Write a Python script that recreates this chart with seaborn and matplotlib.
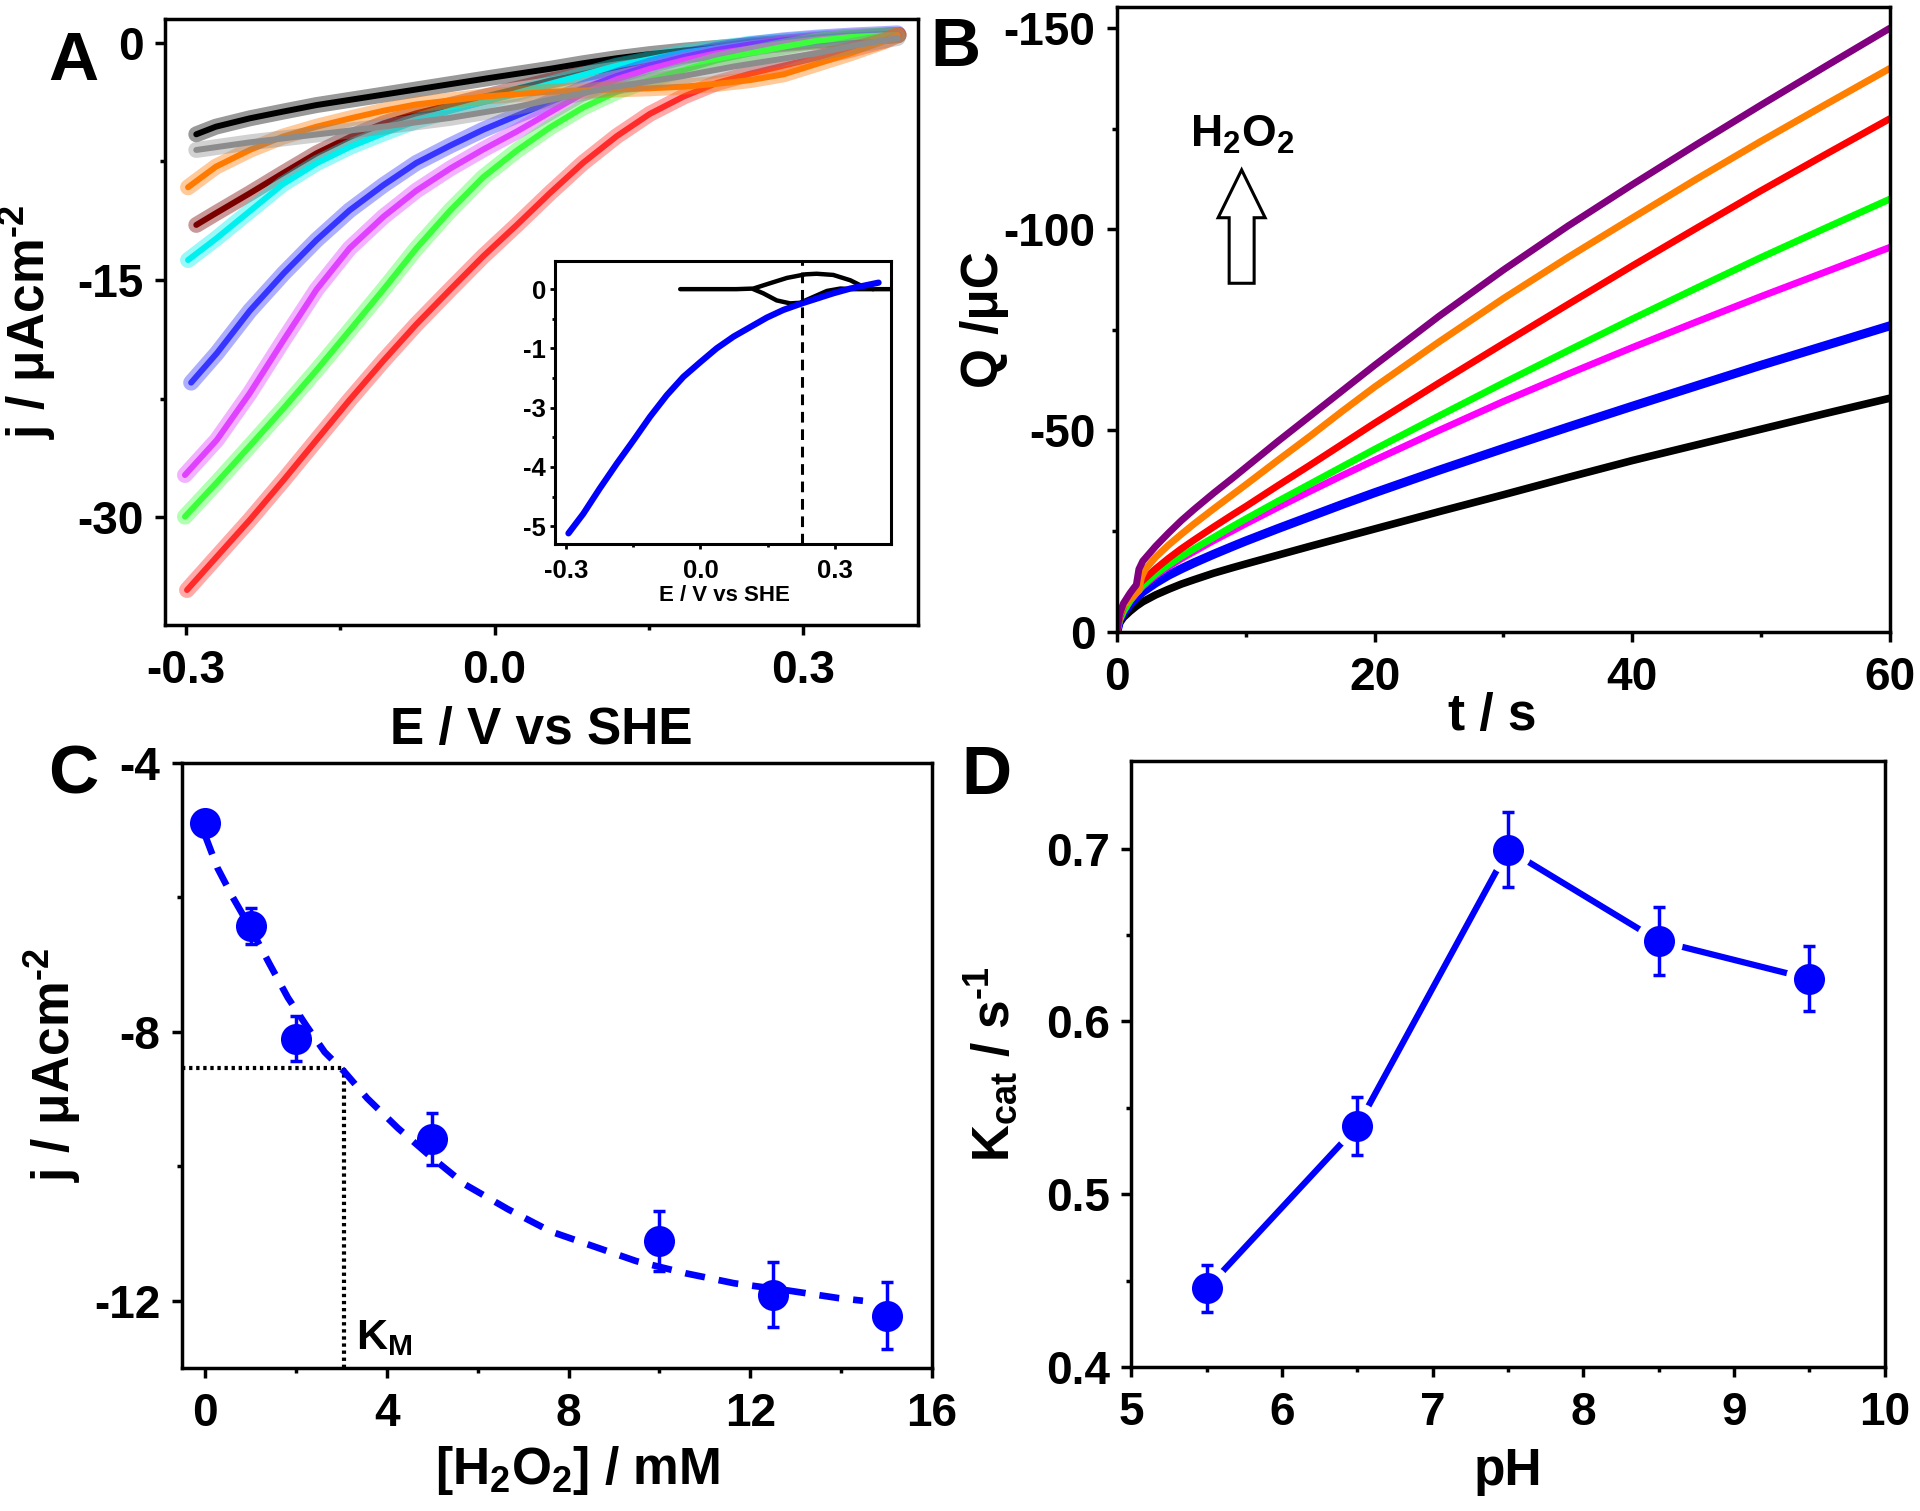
import matplotlib
matplotlib.use("Agg")
import matplotlib.pyplot as plt
import seaborn as sns
from matplotlib.ticker import FixedLocator, FixedFormatter
from matplotlib.patches import FancyArrow

# ---------------- Panel A data (E / V vs SHE, j / uA cm-2) ----------------
a_E_black = [-0.290, -0.271, -0.238, -0.206, -0.173, -0.100, -0.004, 0.054, 0.086, 0.119, 0.151, 0.184, 0.250, 0.320, 0.393]
a_j_black = [-5.79, -5.31, -4.78, -4.36, -3.94, -3.20, -2.22, -1.65, -1.30, -0.98, -0.72, -0.50, -0.15, 0.20, 0.49]

a_E_darkred = [-0.290, -0.271, -0.238, -0.206, -0.173, -0.140, -0.108, -0.076, -0.043, 0.054, 0.151, 0.249, 0.392]
a_j_darkred = [-11.52, -10.78, -9.52, -8.26, -6.99, -5.94, -5.10, -4.46, -3.94, -2.40, -1.10, -0.25, 0.49]

a_E_cyan = [-0.298, -0.271, -0.238, -0.206, -0.173, -0.140, -0.108, -0.076, -0.043, -0.011, 0.054, 0.119, 0.184, 0.249, 0.313, 0.392]
a_j_cyan = [-13.74, -12.40, -10.65, -8.95, -7.62, -6.57, -5.73, -4.95, -4.30, -3.75, -2.60, -1.45, -0.62, -0.06, 0.26, 0.49]

a_E_blue = [-0.295, -0.270, -0.238, -0.205, -0.173, -0.141, -0.108, -0.076, -0.043, -0.011, 0.022, 0.054, 0.086, 0.119, 0.151, 0.184, 0.216, 0.249, 0.281, 0.313, 0.346, 0.392]
a_j_blue = [-21.49, -19.63, -16.95, -14.58, -12.47, -10.60, -9.00, -7.60, -6.50, -5.50, -4.60, -3.75, -2.90, -2.10, -1.45, -0.90, -0.45, -0.10, 0.15, 0.32, 0.45, 0.59]

a_E_magenta = [-0.301, -0.270, -0.238, -0.205, -0.173, -0.141, -0.108, -0.076, -0.043, -0.011, 0.022, 0.054, 0.086, 0.119, 0.151, 0.184, 0.216, 0.249, 0.281, 0.313, 0.346, 0.392]
a_j_magenta = [-27.33, -25.11, -22.16, -18.79, -15.60, -13.00, -11.00, -9.35, -7.95, -6.75, -5.60, -4.40, -3.20, -2.30, -1.65, -1.10, -0.67, -0.36, -0.04, 0.21, 0.38, 0.49]

a_E_green = [-0.301, -0.270, -0.238, -0.205, -0.173, -0.141, -0.108, -0.076, -0.043, -0.011, 0.022, 0.054, 0.086, 0.119, 0.151, 0.184, 0.216, 0.249, 0.281, 0.313, 0.346, 0.392]
a_j_green = [-29.96, -27.80, -25.50, -23.10, -20.70, -18.20, -15.60, -13.00, -10.60, -8.50, -6.80, -5.35, -4.10, -3.10, -2.35, -1.72, -1.12, -0.67, -0.25, 0.12, 0.35, 0.49]

a_E_red = [-0.299, -0.270, -0.238, -0.205, -0.173, -0.141, -0.108, -0.076, -0.043, -0.011, 0.022, 0.054, 0.086, 0.119, 0.151, 0.184, 0.216, 0.249, 0.281, 0.313, 0.346, 0.378, 0.393]
a_j_red = [-34.60, -32.49, -30.17, -27.64, -25.11, -22.59, -20.10, -17.80, -15.60, -13.50, -11.50, -9.50, -7.60, -5.90, -4.50, -3.40, -2.55, -1.95, -1.45, -0.95, -0.45, 0.10, 0.49]

a_E_orange = [-0.298, -0.271, -0.238, -0.206, -0.173, -0.140, -0.108, -0.076, -0.010, 0.054, 0.151, 0.184, 0.216, 0.249, 0.281, 0.313, 0.346, 0.378, 0.392]
a_j_orange = [-9.14, -7.84, -6.78, -5.94, -5.31, -4.78, -4.30, -3.90, -3.40, -3.10, -2.88, -2.78, -2.60, -2.36, -2.00, -1.35, -0.67, 0.06, 0.49]

a_E_gray = [-0.290, -0.238, -0.173, -0.108, -0.043, 0.022, 0.054, 0.114, 0.184, 0.233, 0.313, 0.352, 0.392]
a_j_gray = [-6.78, -6.30, -5.80, -5.30, -4.75, -4.05, -3.60, -2.82, -2.10, -1.50, -0.67, -0.15, 0.30]

# inset (CV and LSV)
in_E_cv_up = [-0.045, 0.080, 0.118, 0.151, 0.193, 0.234, 0.259, 0.296, 0.334, 0.363, 0.385, 0.424]
in_j_cv_up = [0.0, 0.0, 0.01, 0.09, 0.19, 0.25, 0.26, 0.24, 0.15, 0.04, 0.0, 0.0]
in_E_cv_dn = [0.118, 0.140, 0.170, 0.200, 0.222, 0.252, 0.282, 0.312, 0.342, 0.385]
in_j_cv_dn = [0.0, -0.07, -0.19, -0.24, -0.23, -0.13, -0.03, 0.01, 0.0, 0.0]
in_E_lsv = [-0.294, -0.261, -0.224, -0.186, -0.149, -0.112, -0.075, -0.038, 0.000, 0.036, 0.074, 0.111, 0.148, 0.185, 0.226, 0.259, 0.296, 0.334, 0.397]
in_j_lsv = [-4.12, -3.79, -3.36, -2.94, -2.55, -2.15, -1.79, -1.48, -1.23, -1.00, -0.80, -0.64, -0.48, -0.35, -0.24, -0.16, -0.07, 0.01, 0.11]
in_E_dash = 0.227
in_ytick_labels = ["0", "-1", "-3", "-4", "-5"]

# ---------------- Panel B data (t / s, Q / uC) ----------------
b_t = [0, 0.2, 0.5, 1, 1.5, 2, 3, 4, 5, 6, 7.5, 9, 10, 12.5, 15, 17.5, 20, 25, 30, 35, 40, 45, 50, 55, 60]
b_Q_black = [0, -2.1, -3.5, -5.0, -6.3, -7.4, -9.1, -10.5, -11.8, -12.9, -14.5, -15.9, -16.8, -19.0, -21.2, -23.35, -25.5, -29.8, -34.0, -38.3, -42.5, -46.4, -50.3, -54.2, -58.0]
b_Q_blue = [0, -2.8, -4.6, -6.8, -8.5, -9.9, -12.1, -14.0, -15.6, -17.1, -19.2, -21.2, -22.5, -25.6, -28.6, -31.6, -34.5, -40.1, -45.5, -50.8, -56.0, -61.1, -66.2, -71.1, -76.0]
b_Q_magenta = [0, -2.8, -4.9, -7.5, -9.5, -11.2, -13.9, -16.1, -18.1, -19.9, -22.6, -25.1, -26.8, -30.9, -34.9, -38.8, -42.6, -50.0, -57.2, -64.0, -70.6, -77.0, -83.3, -89.4, -95.5]
b_Q_green = [0, -2.8, -5.0, -7.6, -9.7, -11.5, -14.3, -16.6, -18.7, -20.6, -23.4, -26.2, -28.0, -32.4, -36.7, -41.0, -45.3, -53.6, -61.8, -69.8, -77.7, -85.4, -93.0, -100.3, -107.5]
b_Q_red = [0, -3.5, -6.2, -9.0, -11.0, -12.7, -15.6, -18.2, -20.6, -22.8, -26.0, -29.1, -31.1, -36.3, -41.4, -46.6, -51.8, -61.8, -71.6, -81.3, -90.9, -100.3, -109.6, -118.6, -127.5]
b_t_orange = [0, 0.2, 0.5, 1, 1.5, 1.7, 1.9, 2.2, 3, 4, 5, 6, 7.5, 9, 10, 12.5, 15, 17.5, 20, 25, 30, 35, 40, 45, 50, 55, 60]
b_Q_orange = [0, -4.0, -6.3, -8.2, -9.6, -10.2, -13.5, -15.5, -18.5, -21.5, -24.2, -26.8, -30.5, -34.1, -36.5, -42.6, -48.6, -54.8, -60.8, -72.0, -82.8, -93.0, -102.8, -112.5, -121.9, -131.0, -140.0]
b_t_purple = [0, 0.2, 0.5, 1, 1.3, 1.5, 1.7, 2, 3, 4, 5, 6, 7.5, 9, 10, 12.5, 15, 17.5, 20, 25, 30, 35, 40, 45, 50, 55, 60]
b_Q_purple = [0, -4.3, -7.0, -9.5, -10.8, -11.6, -15.5, -17.5, -21.2, -24.5, -27.6, -30.4, -34.4, -38.2, -40.8, -47.3, -53.6, -59.9, -66.2, -78.4, -89.9, -100.8, -111.1, -121.1, -130.9, -140.5, -150.0]

# ---------------- Panel C data ----------------
c_conc = [0, 1, 2, 5, 10, 12.5, 15]
c_j = [-4.90, -6.43, -8.10, -9.59, -11.11, -11.91, -12.22]
c_err = [0.10, 0.27, 0.34, 0.39, 0.45, 0.48, 0.50]
c_fit_x = [0.0, 0.27, 0.61, 1.01, 1.41, 1.82, 2.22, 2.63, 3.06, 3.57, 4.24, 4.92, 5.72, 6.67, 7.61, 8.55, 9.49, 10.57, 11.65, 12.86, 13.94, 14.48]
c_fit_y = [-5.08, -5.56, -6.00, -6.47, -6.98, -7.49, -7.90, -8.30, -8.59, -8.99, -9.43, -9.83, -10.27, -10.64, -10.97, -11.19, -11.41, -11.59, -11.74, -11.85, -11.96, -12.00]
c_KM = 3.05
c_jKM = -8.53

# ---------------- Panel D data ----------------
d_pH = [5.5, 6.5, 7.5, 8.5, 9.5]
d_kcat = [0.4455, 0.5394, 0.6995, 0.6466, 0.6247]
d_err = [0.0135, 0.0167, 0.0215, 0.0196, 0.0188]

# ---------------- style ----------------
sns.set_style("ticks")
plt.rcParams.update({
    "font.family": ["Liberation Sans", "DejaVu Sans"],
    "font.weight": "bold",
    "axes.labelweight": "bold",
    "text.color": "black",
    "axes.labelcolor": "black",
    "mathtext.fontset": "custom",
    "mathtext.rm": "Liberation Sans:bold",
    "mathtext.it": "Liberation Sans:bold",
    "mathtext.bf": "Liberation Sans:bold",
    "mathtext.sf": "Liberation Sans:bold",
    "mathtext.default": "rm",
    "axes.unicode_minus": False,
    "axes.linewidth": 2.5,
    "axes.edgecolor": "black",
    "xtick.color": "black", "ytick.color": "black",
    "xtick.direction": "out", "ytick.direction": "out",
    "xtick.major.width": 2.5, "ytick.major.width": 2.5,
    "xtick.minor.width": 2.5, "ytick.minor.width": 2.5,
    "xtick.major.size": 7.5, "ytick.major.size": 7.5,
    "xtick.minor.size": 3.5, "ytick.minor.size": 3.5,
    "xtick.labelsize": 33, "ytick.labelsize": 33,
    "xtick.major.pad": 10, "ytick.major.pad": 8,
    "axes.labelsize": 37,
})


def set_ticks(axis, major, labels, minor):
    axis.set_major_locator(FixedLocator(major))
    axis.set_major_formatter(FixedFormatter(labels))
    axis.set_minor_locator(FixedLocator(minor))


fig = plt.figure(figsize=(19.2, 15.11), dpi=100)
axA = fig.add_axes([0.08594, 0.58637, 0.39219, 0.40106])
axB = fig.add_axes([0.58177, 0.58206, 0.40240, 0.41330])
axC = fig.add_axes([0.09479, 0.09464, 0.39063, 0.40040])
axD = fig.add_axes([0.58932, 0.09530, 0.39229, 0.40132])

# ---------------- Panel A ----------------
a_curves = [
    (a_E_black, a_j_black, "#000000"),
    (a_E_darkred, a_j_darkred, "#7a0000"),
    (a_E_cyan, a_j_cyan, "#00f0f0"),
    (a_E_blue, a_j_blue, "#3535ff"),
    (a_E_magenta, a_j_magenta, "#e040ff"),
    (a_E_green, a_j_green, "#3cff3c"),
    (a_E_red, a_j_red, "#ff2a2a"),
    (a_E_orange, a_j_orange, "#ff7a00"),
    (a_E_gray, a_j_gray, "#8c8c8c"),
]
for E, j, col in a_curves:
    sns.lineplot(x=E, y=j, ax=axA, color=col, lw=11.5, alpha=0.4, sort=False,
                 estimator=None, legend=False, solid_capstyle="round", solid_joinstyle="round")
    sns.lineplot(x=E, y=j, ax=axA, color=col, lw=4.3, sort=False,
                 estimator=None, legend=False, solid_capstyle="round", solid_joinstyle="round")
axA.set_xlim(-0.3204, 0.4118)
axA.set_ylim(-36.81, 1.50)
set_ticks(axA.xaxis, [-0.3, 0.0, 0.3], ["-0.3", "0.0", "0.3"], [-0.15, 0.15])
set_ticks(axA.yaxis, [0, -15, -30], ["0", "-15", "-30"], [-7.5, -22.5])
axA.set_xlabel("E / V vs SHE")
axA.set_ylabel("j / μAcm$^{\\text{-}2}$")
axA.xaxis.set_label_coords(0.5, -0.134)
axA.yaxis.set_label_coords(-0.142, 0.5)

# inset
axI = fig.add_axes([0.28906, 0.63997, 0.17484, 0.18749])
sns.lineplot(x=in_E_cv_up, y=in_j_cv_up, ax=axI, color="black", lw=3.2, sort=False, estimator=None, legend=False)
sns.lineplot(x=in_E_cv_dn, y=in_j_cv_dn, ax=axI, color="black", lw=3.2, sort=False, estimator=None, legend=False)
sns.lineplot(x=in_E_lsv, y=in_j_lsv, ax=axI, color="#0000ff", lw=4.5, sort=False, estimator=None, legend=False)
axI.axvline(in_E_dash, color="black", lw=2.2, ls=(0, (3.5, 2.2)))
axI.set_xlim(-0.324, 0.424)
axI.set_ylim(-4.30, 0.48)
for sp in axI.spines.values():
    sp.set_linewidth(2.2)
set_ticks(axI.xaxis, [-0.3, 0.0, 0.3], ["-0.3", "0.0", "0.3"], [-0.15, 0.15])
set_ticks(axI.yaxis, [0, -1, -2, -3, -4], in_ytick_labels, [-0.5, -1.5, -2.5, -3.5])
axI.tick_params(axis="both", which="major", labelsize=18.5, length=3.6, width=2.0)
axI.tick_params(axis="both", which="minor", length=2.0, width=2.0)
axI.tick_params(axis="x", pad=7)
axI.tick_params(axis="y", pad=3)
axI.set_xlabel("E / V vs SHE", fontsize=16)
axI.xaxis.set_label_coords(0.506, -0.145)

# ---------------- Panel B ----------------
b_curves = [
    (b_t, b_Q_black, "#000000", 5.5),
    (b_t, b_Q_blue, "#0000ff", 6.5),
    (b_t, b_Q_magenta, "#ff00ff", 5.0),
    (b_t, b_Q_green, "#00ff00", 5.0),
    (b_t, b_Q_red, "#ff0000", 5.0),
    (b_t_orange, b_Q_orange, "#ff8000", 5.0),
    (b_t_purple, b_Q_purple, "#800080", 5.0),
]
for t, Q, col, lw in b_curves:
    sns.lineplot(x=t, y=Q, ax=axB, color=col, lw=lw, sort=False, estimator=None, legend=False,
                 solid_joinstyle="round")
axB.set_xlim(0, 60)
axB.set_ylim(0, -155.3)
set_ticks(axB.xaxis, [0, 20, 40, 60], ["0", "20", "40", "60"], [10, 30, 50])
set_ticks(axB.yaxis, [0, -50, -100, -150], ["0", "-50", "-100", "-150"], [-25, -75, -125])
axB.set_xlabel("t / s")
axB.set_ylabel("Q /μC")
axB.xaxis.set_label_coords(0.486, -0.097)
axB.yaxis.set_label_coords(-0.140, 0.5)
axB.add_patch(FancyArrow(9.68, -86.6, 0, -28.2, width=1.94, head_width=3.65, head_length=11.9,
                         length_includes_head=True, fc="white", ec="black", lw=2.2, zorder=5))
axB.text(9.68, -120.5, "H$_2$O$_2$", ha="center", va="baseline", fontsize=32)

# ---------------- Panel C ----------------
blue = "#0000ff"
sns.lineplot(x=c_fit_x, y=c_fit_y, ax=axC, color=blue, lw=4.8, sort=False, estimator=None,
             legend=False, linestyle=(0, (3.0, 2.1)), zorder=2)
axC.errorbar(c_conc, c_j, yerr=c_err, fmt="none", ecolor=blue, elinewidth=2.5,
             capsize=4.5, capthick=2.5, zorder=4)
sns.scatterplot(x=c_conc, y=c_j, ax=axC, s=500, color=blue, edgecolor=blue, linewidth=0,
                zorder=5, legend=False)
axC.hlines(c_jKM, -0.51, c_KM, colors="black", lw=3.0, linestyles=(0, (0.8, 0.9)), zorder=1)
axC.vlines(c_KM, -13.0, c_jKM, colors="black", lw=3.0, linestyles=(0, (0.8, 0.9)), zorder=1)
axC.text(c_KM + 0.28, -12.72, "K$_{\\mathrm{M}}$", ha="left", va="baseline", fontsize=31)
axC.set_xlim(-0.51, 16)
axC.set_ylim(-13.0, -4.0)
set_ticks(axC.xaxis, [0, 4, 8, 12, 16], ["0", "4", "8", "12", "16"], [2, 6, 10, 14])
set_ticks(axC.yaxis, [-4, -8, -12], ["-4", "-8", "-12"], [-6, -10])
axC.set_xlabel("[H$_2$O$_2$] / mM")
axC.set_ylabel("j / μAcm$^{\\text{-}2}$")
axC.xaxis.set_label_coords(0.527, -0.1256)
axC.yaxis.set_label_coords(-0.132, 0.5)

# ---------------- Panel D ----------------
sns.lineplot(x=d_pH, y=d_kcat, ax=axD, color=blue, lw=4.5, sort=False, estimator=None,
             legend=False, zorder=2)
sns.scatterplot(x=d_pH, y=d_kcat, ax=axD, s=1150, color="white", edgecolor="white",
                linewidth=0, zorder=3, legend=False)
axD.errorbar(d_pH, d_kcat, yerr=d_err, fmt="none", ecolor=blue, elinewidth=2.5,
             capsize=4.5, capthick=2.5, zorder=4)
sns.scatterplot(x=d_pH, y=d_kcat, ax=axD, s=500, color=blue, edgecolor=blue, linewidth=0,
                zorder=5, legend=False)
axD.set_xlim(5, 10)
axD.set_ylim(0.4, 0.751)
set_ticks(axD.xaxis, [5, 6, 7, 8, 9, 10], ["5", "6", "7", "8", "9", "10"], [5.5, 6.5, 7.5, 8.5, 9.5])
set_ticks(axD.yaxis, [0.4, 0.5, 0.6, 0.7], ["0.4", "0.5", "0.6", "0.7"], [0.45, 0.55, 0.65])
axD.set_xlabel("pH")
axD.set_ylabel("K$_{cat}$ / s$^{\\text{-}1}$")
axD.xaxis.set_label_coords(0.5, -0.132)
axD.yaxis.set_label_coords(-0.147, 0.5)

for ax in (axA, axB, axC, axD):
    for sp in ax.spines.values():
        sp.set_linewidth(2.5)
        sp.set_visible(True)

# panel letters
for letter, x, y in [("A", 73, 80), ("B", 955, 66), ("C", 73, 793), ("D", 986, 794)]:
    fig.text(x / 1920, 1 - y / 1511, letter, ha="center", va="baseline", fontsize=50, fontweight="bold")

fig.savefig("out.png", dpi=100)
